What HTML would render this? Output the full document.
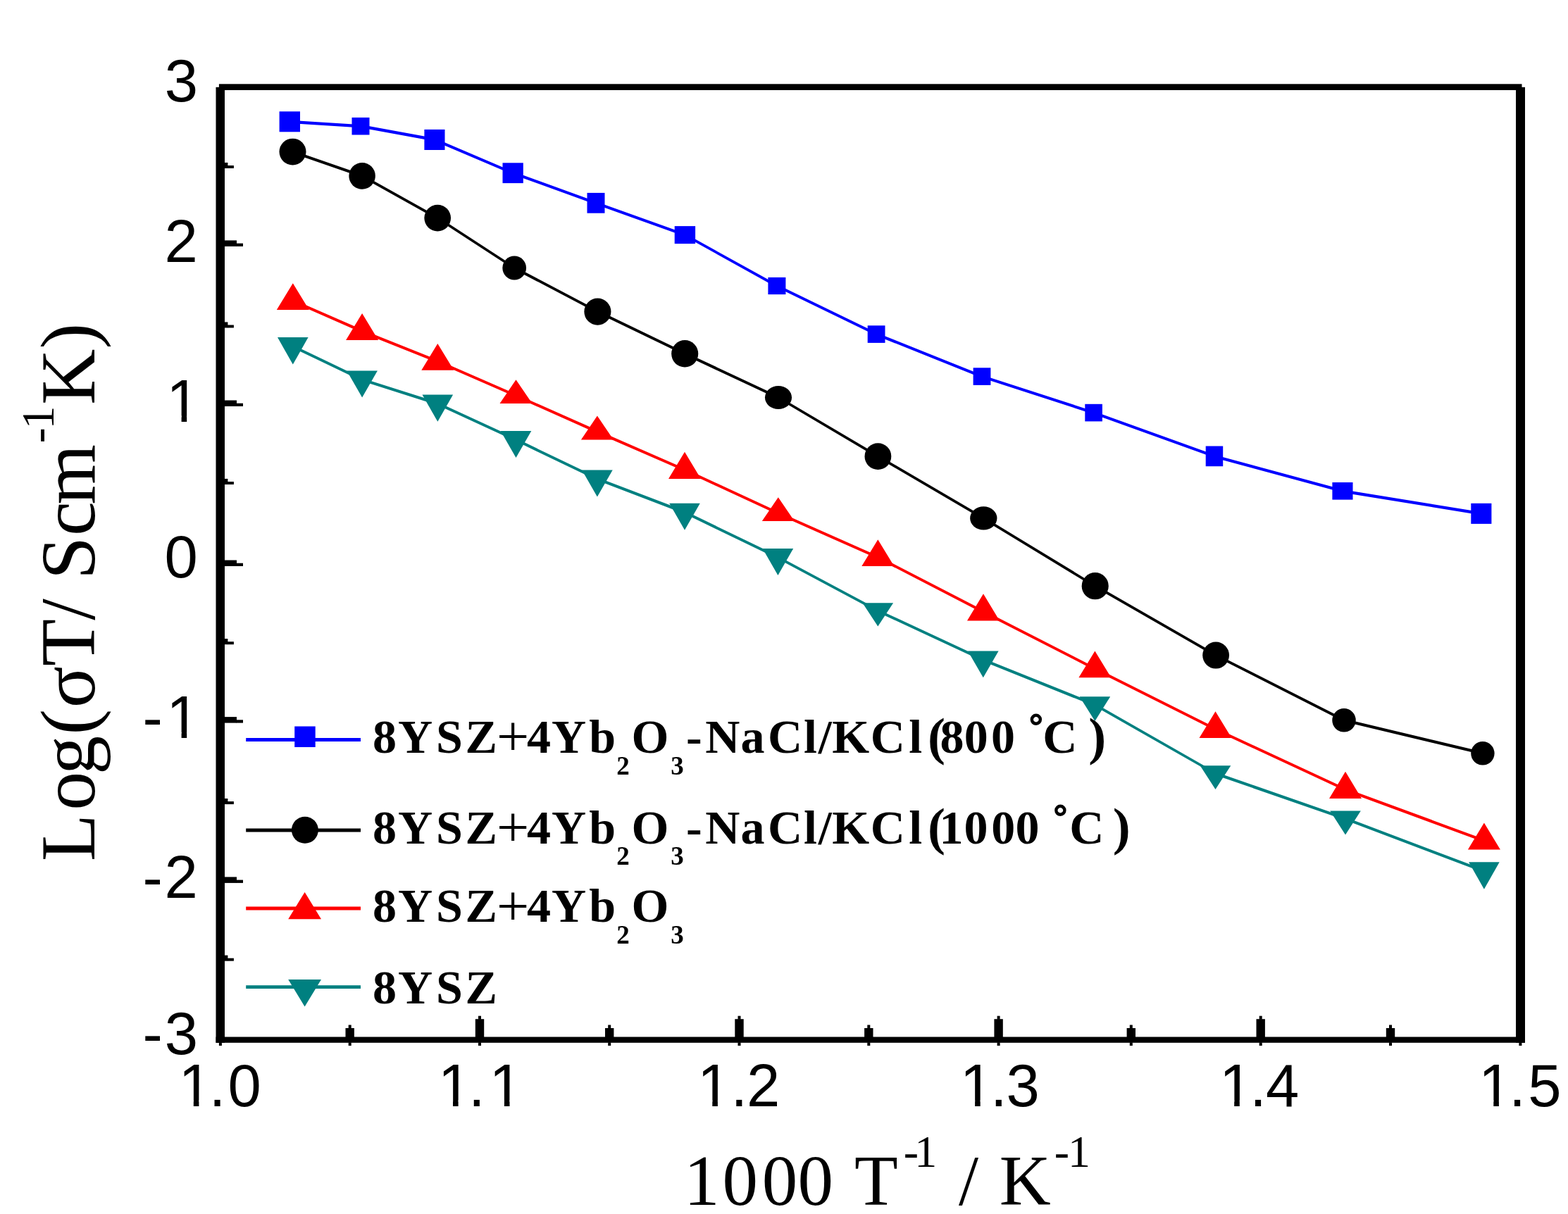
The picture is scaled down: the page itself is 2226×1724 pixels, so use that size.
<!DOCTYPE html>
<html><head><meta charset="utf-8"><title>Log conductivity vs 1000/T</title>
<style>html,body{margin:0;padding:0;background:#fff;overflow:hidden}svg{display:block}</style>
</head><body>
<svg width="2226" height="1724" viewBox="0 0 2226 1724">
<rect width="2226" height="1724" fill="#fff"/>
<g>
<g stroke="#0000ff" stroke-linecap="round"><line x1="411.3" y1="172.8" x2="512" y2="179.2" stroke-width="4.29"/><line x1="512" y1="179.2" x2="617" y2="198.4" stroke-width="4.23"/><line x1="617" y1="198.4" x2="728.2" y2="245.7" stroke-width="3.96"/><line x1="728.2" y1="245.7" x2="846" y2="288.3" stroke-width="4.04"/><line x1="846" y1="288.3" x2="972.4" y2="333.6" stroke-width="4.05"/><line x1="972.4" y1="333.6" x2="1102.9" y2="406" stroke-width="3.76"/><line x1="1102.9" y1="406" x2="1244.1" y2="474.6" stroke-width="3.87"/><line x1="1244.1" y1="474.6" x2="1394" y2="534.6" stroke-width="3.99"/><line x1="1394" y1="534.6" x2="1552.6" y2="586.1" stroke-width="4.09"/><line x1="1552.6" y1="586.1" x2="1724" y2="647.9" stroke-width="4.05"/><line x1="1724" y1="647.9" x2="1905.9" y2="697.3" stroke-width="4.15"/><line x1="1905.9" y1="697.3" x2="2102.8" y2="729.4" stroke-width="4.24"/></g>
<rect x="396.6" y="158.3" width="29.4" height="29" fill="#0000ff"/>
<rect x="499.5" y="166.9" width="25" height="24.6" fill="#0000ff"/>
<rect x="602.4" y="183.9" width="29.1" height="29.1" fill="#0000ff"/>
<rect x="713.5" y="231.3" width="29.3" height="28.8" fill="#0000ff"/>
<rect x="833.5" y="273.9" width="25" height="28.8" fill="#0000ff"/>
<rect x="957.7" y="321.1" width="29.4" height="25" fill="#0000ff"/>
<rect x="1090.4" y="393.9" width="25" height="24.2" fill="#0000ff"/>
<rect x="1231.7" y="462.3" width="24.8" height="24.6" fill="#0000ff"/>
<rect x="1381.6" y="522.3" width="24.8" height="24.6" fill="#0000ff"/>
<rect x="1540.3" y="573.8" width="24.6" height="24.6" fill="#0000ff"/>
<rect x="1711.7" y="633.5" width="24.5" height="28.7" fill="#0000ff"/>
<rect x="1891.4" y="685" width="29.1" height="24.6" fill="#0000ff"/>
<rect x="2088.3" y="714.8" width="29.1" height="29.1" fill="#0000ff"/>
<g stroke="#000000" stroke-linecap="round"><line x1="415.5" y1="215.6" x2="514.1" y2="249.8" stroke-width="4.06"/><line x1="514.1" y1="249.8" x2="621.2" y2="309.6" stroke-width="3.75"/><line x1="621.2" y1="309.6" x2="730.2" y2="380.5" stroke-width="3.60"/><line x1="730.2" y1="380.5" x2="848.4" y2="442.6" stroke-width="3.81"/><line x1="848.4" y1="442.6" x2="972.2" y2="502.3" stroke-width="3.87"/><line x1="972.2" y1="502.3" x2="1105" y2="564.5" stroke-width="3.89"/><line x1="1105" y1="564.5" x2="1246.4" y2="648.1" stroke-width="3.70"/><line x1="1246.4" y1="648.1" x2="1396.3" y2="735.9" stroke-width="3.71"/><line x1="1396.3" y1="735.9" x2="1554.7" y2="832.2" stroke-width="3.67"/><line x1="1554.7" y1="832.2" x2="1726.1" y2="930.6" stroke-width="3.73"/><line x1="1726.1" y1="930.6" x2="1908" y2="1022.8" stroke-width="3.84"/><line x1="1908" y1="1022.8" x2="2104.9" y2="1069.8" stroke-width="4.18"/></g>
<ellipse cx="415.5" cy="215.6" rx="19.00" ry="18.95" fill="#000000"/>
<ellipse cx="514.1" cy="249.8" rx="18.75" ry="18.85" fill="#000000"/>
<ellipse cx="621.2" cy="309.6" rx="18.85" ry="18.85" fill="#000000"/>
<ellipse cx="730.2" cy="380.5" rx="16.85" ry="16.95" fill="#000000"/>
<ellipse cx="848.4" cy="442.6" rx="19.05" ry="19.05" fill="#000000"/>
<ellipse cx="972.2" cy="502.3" rx="19.05" ry="19.25" fill="#000000"/>
<ellipse cx="1105" cy="564.5" rx="19.05" ry="16.60" fill="#000000"/>
<ellipse cx="1246.4" cy="648.1" rx="18.90" ry="18.90" fill="#000000"/>
<ellipse cx="1396.3" cy="735.9" rx="19.15" ry="16.65" fill="#000000"/>
<ellipse cx="1554.7" cy="832.2" rx="19.05" ry="19.15" fill="#000000"/>
<ellipse cx="1726.1" cy="930.6" rx="18.90" ry="19.00" fill="#000000"/>
<ellipse cx="1908" cy="1022.8" rx="16.75" ry="16.75" fill="#000000"/>
<ellipse cx="2104.9" cy="1069.8" rx="16.70" ry="16.75" fill="#000000"/>
<g stroke="#ff0000" stroke-linecap="round"><line x1="415.8" y1="427.3" x2="514.1" y2="470.3" stroke-width="3.94"/><line x1="514.1" y1="470.3" x2="621.3" y2="513.2" stroke-width="3.99"/><line x1="621.3" y1="513.2" x2="732.5" y2="561.8" stroke-width="3.94"/><line x1="732.5" y1="561.8" x2="847.9" y2="613.1" stroke-width="3.93"/><line x1="847.9" y1="613.1" x2="972" y2="667.2" stroke-width="3.94"/><line x1="972" y1="667.2" x2="1104.8" y2="728.8" stroke-width="3.90"/><line x1="1104.8" y1="728.8" x2="1246.3" y2="791.5" stroke-width="3.93"/><line x1="1246.3" y1="791.5" x2="1396" y2="868.7" stroke-width="3.82"/><line x1="1396" y1="868.7" x2="1554.4" y2="949.7" stroke-width="3.83"/><line x1="1554.4" y1="949.7" x2="1725.5" y2="1035.5" stroke-width="3.84"/><line x1="1725.5" y1="1035.5" x2="1910" y2="1121.3" stroke-width="3.90"/><line x1="1910" y1="1121.3" x2="2106.9" y2="1193.9" stroke-width="4.03"/></g>
<polygon points="415.8,402.2 392.8,439.9 438.8,439.9" fill="#ff0000"/>
<polygon points="514.1,444.9 491.1,483 537.1,483" fill="#ff0000"/>
<polygon points="621.3,487.9 598.3,525.8 644.3,525.8" fill="#ff0000"/>
<polygon points="732.5,539.2 709.5,573.1 755.5,573.1" fill="#ff0000"/>
<polygon points="847.9,590.5 824.9,624.4 870.9,624.4" fill="#ff0000"/>
<polygon points="972,641.8 949,679.9 995,679.9" fill="#ff0000"/>
<polygon points="1104.8,706.3 1081.8,740 1127.8,740" fill="#ff0000"/>
<polygon points="1246.3,766.3 1223.3,804.1 1269.3,804.1" fill="#ff0000"/>
<polygon points="1396,843.2 1373,881.5 1419,881.5" fill="#ff0000"/>
<polygon points="1554.4,924.5 1531.4,962.3 1577.4,962.3" fill="#ff0000"/>
<polygon points="1725.5,1010.3 1702.5,1048.1 1748.5,1048.1" fill="#ff0000"/>
<polygon points="1910,1095.8 1887,1134 1933,1134" fill="#ff0000"/>
<polygon points="2106.9,1168.5 2083.9,1206.6 2129.9,1206.6" fill="#ff0000"/>
<g stroke="#008080" stroke-linecap="round"><line x1="415.8" y1="491.9" x2="514.1" y2="539.1" stroke-width="3.88"/><line x1="514.1" y1="539.1" x2="621.3" y2="573.3" stroke-width="4.10"/><line x1="621.3" y1="573.3" x2="732.5" y2="624.6" stroke-width="3.90"/><line x1="732.5" y1="624.6" x2="847.9" y2="680.1" stroke-width="3.88"/><line x1="847.9" y1="680.1" x2="972" y2="727.5" stroke-width="4.02"/><line x1="972" y1="727.5" x2="1104.4" y2="791.6" stroke-width="3.87"/><line x1="1104.4" y1="791.6" x2="1246.3" y2="867.4" stroke-width="3.79"/><line x1="1246.3" y1="867.4" x2="1395.8" y2="937.1" stroke-width="3.90"/><line x1="1395.8" y1="937.1" x2="1554.4" y2="1000.9" stroke-width="3.99"/><line x1="1554.4" y1="1000.9" x2="1725.5" y2="1098.5" stroke-width="3.73"/><line x1="1725.5" y1="1098.5" x2="1910" y2="1162.7" stroke-width="4.06"/><line x1="1910" y1="1162.7" x2="2106.9" y2="1237.1" stroke-width="4.02"/></g>
<polygon points="394,479.1 437.6,479.1 415.8,517.6" fill="#008080"/>
<polygon points="492.3,526.4 535.9,526.4 514.1,564.5" fill="#008080"/>
<polygon points="599.5,560.6 643.1,560.6 621.3,598.7" fill="#008080"/>
<polygon points="710.7,611.9 754.3,611.9 732.5,650" fill="#008080"/>
<polygon points="826.1,667.4 869.7,667.4 847.9,705.5" fill="#008080"/>
<polygon points="950.2,714.8 993.8,714.8 972,752.8" fill="#008080"/>
<polygon points="1082.6,778.9 1126.2,778.9 1104.4,816.9" fill="#008080"/>
<polygon points="1224.5,856.3 1268.1,856.3 1246.3,889.5" fill="#008080"/>
<polygon points="1374,924.5 1417.6,924.5 1395.8,962.3" fill="#008080"/>
<polygon points="1532.6,989.3 1576.2,989.3 1554.4,1024" fill="#008080"/>
<polygon points="1703.7,1087.3 1747.3,1087.3 1725.5,1120.9" fill="#008080"/>
<polygon points="1888.2,1151.4 1931.8,1151.4 1910,1185.4" fill="#008080"/>
<polygon points="2085.1,1224.2 2128.7,1224.2 2106.9,1262.8" fill="#008080"/>
</g>
<rect x="310.9" y="119.3" width="1849.6" height="8.7" fill="#000"/>
<rect x="306.5" y="123.8" width="12.5" height="1357" fill="#000"/>
<rect x="2152" y="123.8" width="13" height="1357" fill="#000"/>
<rect x="306.5" y="1472.5" width="1858.5" height="8.3" fill="#000"/>
<rect x="310.9" y="1480.3" width="4" height="4.7" fill="#000"/>
<rect x="490.5" y="1460" width="12.4" height="13" fill="#000"/>
<rect x="494.7" y="1455.5" width="4" height="5" fill="#000"/>
<rect x="494.7" y="1480.3" width="4" height="4.7" fill="#000"/>
<rect x="674.8" y="1447.2" width="12.4" height="25.8" fill="#000"/>
<rect x="679" y="1442.7" width="4" height="5" fill="#000"/>
<rect x="679" y="1480.3" width="4" height="4.7" fill="#000"/>
<rect x="859" y="1460" width="12.4" height="13" fill="#000"/>
<rect x="863.2" y="1455.5" width="4" height="5" fill="#000"/>
<rect x="863.2" y="1480.3" width="4" height="4.7" fill="#000"/>
<rect x="1043.3" y="1447.2" width="12.4" height="25.8" fill="#000"/>
<rect x="1047.5" y="1442.7" width="4" height="5" fill="#000"/>
<rect x="1047.5" y="1480.3" width="4" height="4.7" fill="#000"/>
<rect x="1227.1" y="1460" width="12.4" height="13" fill="#000"/>
<rect x="1231.3" y="1455.5" width="4" height="5" fill="#000"/>
<rect x="1231.3" y="1480.3" width="4" height="4.7" fill="#000"/>
<rect x="1411.4" y="1447.2" width="12.4" height="25.8" fill="#000"/>
<rect x="1415.6" y="1442.7" width="4" height="5" fill="#000"/>
<rect x="1415.6" y="1480.3" width="4" height="4.7" fill="#000"/>
<rect x="1599.6" y="1460" width="12.4" height="13" fill="#000"/>
<rect x="1603.8" y="1455.5" width="4" height="5" fill="#000"/>
<rect x="1603.8" y="1480.3" width="4" height="4.7" fill="#000"/>
<rect x="1783.5" y="1447.2" width="12.4" height="25.8" fill="#000"/>
<rect x="1787.7" y="1442.7" width="4" height="5" fill="#000"/>
<rect x="1787.7" y="1480.3" width="4" height="4.7" fill="#000"/>
<rect x="1967.8" y="1460" width="12.4" height="13" fill="#000"/>
<rect x="1972" y="1455.5" width="4" height="5" fill="#000"/>
<rect x="1972" y="1480.3" width="4" height="4.7" fill="#000"/>
<rect x="2156.4" y="1480.3" width="4" height="4.7" fill="#000"/>
<rect x="318.5" y="230.9" width="4.9" height="8.1" fill="#000"/>
<rect x="323" y="235" width="8.9" height="4" fill="#000"/>
<rect x="318.5" y="341.4" width="17.5" height="8.5" fill="#000"/>
<rect x="335.5" y="345.6" width="9.5" height="4.3" fill="#000"/>
<rect x="318.5" y="457.4" width="4.9" height="8.1" fill="#000"/>
<rect x="323" y="461.5" width="8.9" height="4" fill="#000"/>
<rect x="318.5" y="568.5" width="17.5" height="8.5" fill="#000"/>
<rect x="335.5" y="572.7" width="9.5" height="4.3" fill="#000"/>
<rect x="318.5" y="679.9" width="4.9" height="8.1" fill="#000"/>
<rect x="323" y="684" width="8.9" height="4" fill="#000"/>
<rect x="318.5" y="795.5" width="17.5" height="8.5" fill="#000"/>
<rect x="335.5" y="799.7" width="9.5" height="4.3" fill="#000"/>
<rect x="318.5" y="907.1" width="4.9" height="8.1" fill="#000"/>
<rect x="323" y="911.2" width="8.9" height="4" fill="#000"/>
<rect x="318.5" y="1018.1" width="17.5" height="8.5" fill="#000"/>
<rect x="335.5" y="1022.3" width="9.5" height="4.3" fill="#000"/>
<rect x="318.5" y="1134" width="4.9" height="8.1" fill="#000"/>
<rect x="323" y="1138.1" width="8.9" height="4" fill="#000"/>
<rect x="318.5" y="1245.4" width="17.5" height="8.5" fill="#000"/>
<rect x="335.5" y="1249.6" width="9.5" height="4.3" fill="#000"/>
<rect x="318.5" y="1356.6" width="4.9" height="8.1" fill="#000"/>
<rect x="323" y="1360.7" width="8.9" height="4" fill="#000"/>
<g font-family="Liberation Sans, Arial, sans-serif" font-size="85" fill="#000">
<text x="233.8" y="143.7">3</text>
<text x="233.6" y="371.7">2</text>
<text x="236.3" y="598.7">1</text>
<text x="233.6" y="820.3">0</text>
<text x="202.4 236.3" y="1048.2">-1</text>
<text x="202.4 233.6" y="1274.9">-2</text>
<text x="202.4 233.8" y="1496.9">-3</text>
<text x="253.5 296.7 323.4" y="1570.8">1.0</text>
<text x="621.7 665.1 694.6" y="1570.8">1.1</text>
<text x="990 1037.5 1060.1" y="1570.8">1.2</text>
<text x="1362.8 1406 1428.5" y="1570.8">1.3</text>
<text x="1730.9 1774.2 1796.9" y="1570.8">1.4</text>
<text x="2099 2142.3 2169.2" y="1570.8">1.5</text>
</g>
<rect x="240.2" y="590.3" width="17.4" height="10.9" fill="#fff"/>
<rect x="265.2" y="590.3" width="16.7" height="10.9" fill="#fff"/>
<rect x="240.2" y="1039.8" width="17.4" height="10.9" fill="#fff"/>
<rect x="265.2" y="1039.8" width="16.7" height="10.9" fill="#fff"/>
<rect x="257.4" y="1562.4" width="17.4" height="10.9" fill="#fff"/>
<rect x="282.4" y="1562.4" width="16.7" height="10.9" fill="#fff"/>
<rect x="625.6" y="1562.4" width="17.4" height="10.9" fill="#fff"/>
<rect x="650.6" y="1562.4" width="16.7" height="10.9" fill="#fff"/>
<rect x="698.5" y="1562.4" width="17.4" height="10.9" fill="#fff"/>
<rect x="723.5" y="1562.4" width="16.7" height="10.9" fill="#fff"/>
<rect x="993.9" y="1562.4" width="17.4" height="10.9" fill="#fff"/>
<rect x="1018.9" y="1562.4" width="16.7" height="10.9" fill="#fff"/>
<rect x="1366.7" y="1562.4" width="17.4" height="10.9" fill="#fff"/>
<rect x="1391.7" y="1562.4" width="16.7" height="10.9" fill="#fff"/>
<rect x="1734.8" y="1562.4" width="17.4" height="10.9" fill="#fff"/>
<rect x="1759.8" y="1562.4" width="16.7" height="10.9" fill="#fff"/>
<rect x="2102.9" y="1562.4" width="17.4" height="10.9" fill="#fff"/>
<rect x="2127.9" y="1562.4" width="16.7" height="10.9" fill="#fff"/>
<g font-family="Liberation Serif, Times New Roman, serif" font-weight="bold" font-size="68" fill="#000">
<text><tspan x="528.9 564.9 619.1 660.4" y="1069">8YSZ</tspan><tspan x="705" y="1073.4" font-size="82" font-weight="normal">+</tspan><tspan x="748 782.9 836.3" y="1069">4Yb</tspan><tspan x="875.3" y="1099.5" font-size="37">2</tspan><tspan x="896.5" y="1069">O</tspan><tspan x="952.3" y="1099.5" font-size="37">3</tspan><tspan x="973.9 1001.2 1051.5 1089.9 1140.9 1161.8 1181.2 1235.8 1290.3" y="1069">-NaCl/KCl</tspan><tspan x="1316.9" y="1070.6" font-size="75">(</tspan><tspan x="1334.4 1368.7 1407.1 1441.1" y="1069">800 </tspan><tspan x="1457.6" y="1072.3" font-size="80">˚</tspan><tspan x="1480.2 1529.3" y="1069">C </tspan><tspan x="1545.3" y="1070.6" font-size="75">)</tspan></text>
<text><tspan x="528.9 564.9 619.1 660.4" y="1197.7">8YSZ</tspan><tspan x="705" y="1202.1" font-size="82" font-weight="normal">+</tspan><tspan x="748 782.9 836.3" y="1197.7">4Yb</tspan><tspan x="875.3" y="1228.2" font-size="37">2</tspan><tspan x="896.5" y="1197.7">O</tspan><tspan x="952.3" y="1228.2" font-size="37">3</tspan><tspan x="973.9 1001.2 1051.5 1089.9 1140.9 1161.8 1181.2 1235.8 1290.3" y="1197.7">-NaCl/KCl</tspan><tspan x="1316.9" y="1199.3" font-size="75">(</tspan><tspan x="1333.5 1368.6 1407.2 1441.4 1475.4" y="1197.7">1000 </tspan><tspan x="1492.1" y="1200.9" font-size="80">˚</tspan><tspan x="1518.2 1567.3" y="1197.7">C </tspan><tspan x="1579.8" y="1199.3" font-size="75">)</tspan></text>
<text><tspan x="528.9 564.9 619.1 660.4" y="1309.1">8YSZ</tspan><tspan x="705" y="1313.5" font-size="82" font-weight="normal">+</tspan><tspan x="748 782.9 836.3" y="1309.1">4Yb</tspan><tspan x="875.3" y="1339.6" font-size="37">2</tspan><tspan x="896.5" y="1309.1">O</tspan><tspan x="952.3" y="1339.6" font-size="37">3</tspan></text>
<text><tspan x="528.9 564.9 619.1 660.4" y="1424.8">8YSZ</tspan></text>
</g>
<line x1="349.2" y1="1050.5" x2="512" y2="1050.5" stroke="#0000ff" stroke-width="4.8"/>
<line x1="349.2" y1="1179" x2="512" y2="1179" stroke="#000000" stroke-width="4.8"/>
<line x1="349.2" y1="1290" x2="512" y2="1290" stroke="#ff0000" stroke-width="4.8"/>
<line x1="349.2" y1="1401.6" x2="512" y2="1401.6" stroke="#008080" stroke-width="4.8"/>
<rect x="418.2" y="1031.5" width="29.5" height="29.5" fill="#0000ff"/>
<circle cx="432.9" cy="1178.8" r="19" fill="#000000"/>
<polygon points="432.6,1266.9 409.2,1305.3 456,1305.3" fill="#ff0000"/>
<polygon points="409.2,1390.9 456,1390.9 432.6,1429.4" fill="#008080"/>
<text font-family="Liberation Serif, Times New Roman, serif" font-size="101" fill="#000"><tspan x="971.1 1025.5 1081.8 1132.5 1183 1213" y="1711.4">1000 T</tspan><tspan x="1282.8 1298.2" y="1656.5" font-size="64">-1</tspan><tspan x="1335.6 1360.9 1388.9 1418.8" y="1711.4"> / K</tspan><tspan x="1496.7 1515.9" y="1656.5" font-size="64">-1</tspan></text>
<text transform="translate(134.1,0) rotate(-90)" font-family="Liberation Serif, Times New Roman, serif" font-size="110" fill="#000"><tspan x="-1223.2 -1150.8 -1100.1 -1043.5 -1005.2 -945.9 -880.7 -850.1 -822.9 -760.9 -716.6" y="0">Log(σT/ Scm</tspan><tspan x="-629.2 -609.4" y="-58.2" font-size="65.7">-1</tspan><tspan x="-575.1 -495.6" y="0">K)</tspan></text>
</svg>
</body></html>
